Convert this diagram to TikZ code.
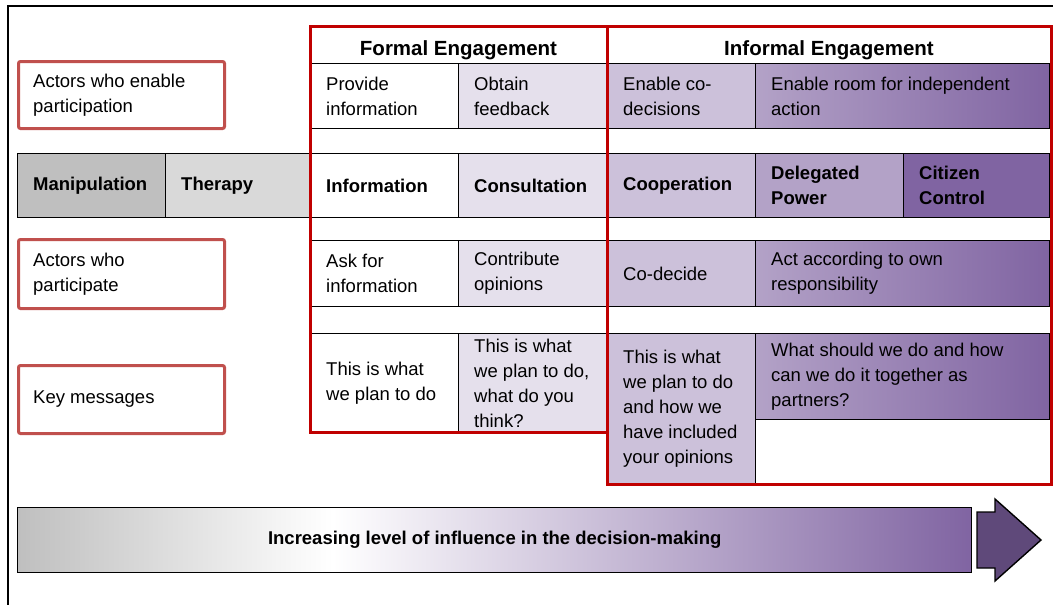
\documentclass[tikz,border=0pt]{standalone}
\usepackage{fontspec}
\setmainfont{Liberation Sans}
\definecolor{g1}{HTML}{BFBFBF}
\definecolor{g2}{HTML}{D9D9D9}
\definecolor{p1}{HTML}{E5E0EC}
\definecolor{p2}{HTML}{CCC1DA}
\definecolor{p3}{HTML}{B3A2C7}
\definecolor{p4}{HTML}{8064A2}
\definecolor{p5}{HTML}{5F497A}
\definecolor{lblred}{HTML}{C0504D}
\definecolor{frmred}{HTML}{C00000}
\pgfdeclarehorizontalshading{barshade}{100bp}{color(0bp)=(g1); color(25bp)=(g1); color(41.5bp)=(white); color(75bp)=(p4); color(100bp)=(p4)}
% #1 name, #2 x, #3 y, #4 w, #5 h, #6 box options, #7 text options, #8 text
\newcommand\mycell[8]{%
  \node[cellbox, #6, minimum width=#4pt, minimum height=#5pt] (#1) at (#2,#3) {};
  \node[celltext, #7] (#1-t) at ([xshift=16pt]#1.west) {#8};}
\begin{document}
\begin{tikzpicture}[x=1pt,y=-1pt,
  cellbox/.style={draw=black, line width=1.4pt, anchor=north west, inner sep=0pt},
  celltext/.style={anchor=west, align=left, inner sep=0pt, font=\fontsize{18.5}{25}\selectfont},
  bold/.style={font=\fontsize{18.5}{25}\selectfont\bfseries},
  lblbox/.style={draw=lblred, line width=3pt, rounded corners=2pt, fill=white, anchor=north west, inner sep=0pt},
  hdr/.style={anchor=base, inner sep=0pt, font=\fontsize{20.5}{25}\selectfont\bfseries},
  frame/.style={draw=frmred, line width=3pt},
  grad/.style={left color=p3, right color=p4}]
\useasboundingbox (0,0) rectangle (1053,605);
\draw[line width=1.5pt] (8,605) -- (8,6) -- (1053,6);

% left labels
\mycell{l1}{17}{60}{206}{67}{lblbox}{}{Actors who enable\\participation}
\mycell{l2}{17}{238}{206}{69}{lblbox}{}{Actors who\\participate}
\mycell{l3}{17}{364}{206}{68}{lblbox}{}{Key messages}

% headers
\node[hdr] (fe) at (458.5,55) {Formal Engagement};
\node[hdr] (ie) at (829,55) {Informal Engagement};

% row 1
\mycell{r1a}{310}{63}{148}{65}{fill=white}{}{Provide\\information}
\mycell{r1b}{458}{63}{149}{65}{fill=p1}{}{Obtain\\feedback}
\mycell{r1c}{607}{63}{148}{65}{fill=p2}{}{Enable co-\\decisions}
\mycell{r1d}{755}{63}{294}{65}{grad}{}{Enable room for independent\\action}

% ladder
\mycell{m}{17}{153}{148}{64}{fill=g1}{bold}{Manipulation}
\mycell{th}{165}{153}{145}{64}{fill=g2}{bold}{Therapy}
\mycell{inf}{310}{153}{148}{64}{fill=white}{bold}{Information}
\mycell{con}{458}{153}{149}{64}{fill=p1}{bold}{Consultation}
\mycell{coop}{607}{153}{148}{64}{fill=p2}{bold}{Cooperation}
\mycell{del}{755}{153}{148}{64}{fill=p3}{bold}{Delegated\\Power}
\mycell{cit}{903}{153}{146}{64}{fill=p4}{bold}{Citizen\\Control}

% row 3
\mycell{r3a}{310}{240}{148}{66}{fill=white}{}{Ask for\\information}
\mycell{r3b}{458}{240}{149}{66}{fill=p1}{}{Contribute\\opinions}
\mycell{r3c}{607}{240}{148}{66}{fill=p2}{}{Co-decide}
\mycell{r3d}{755}{240}{294}{66}{grad}{}{Act according to own\\responsibility}

% row 4
\mycell{r4a}{310}{333}{148}{99}{fill=white}{}{This is what\\we plan to do}
\mycell{r4b}{458}{333}{149}{99}{fill=p1}{}{This is what\\we plan to do,\\what do you\\think?}
\mycell{r4c}{607}{333}{148}{150}{fill=p2}{}{This is what\\we plan to do\\and how we\\have included\\your opinions}
\mycell{r4d}{755}{333}{294}{86}{grad}{}{What should we do and how\\can we do it together as\\partners?}

% red frames
\draw[frame] (310,26) rectangle (607,432);
\draw[frame] (607,26) rectangle (1051,484);

% bottom bar and arrow
\node[draw=black, line width=1.4pt, shade, shading=barshade, anchor=north west, minimum width=954pt, minimum height=65pt, inner sep=0pt, bold] (bar) at (17,507) {Increasing level of influence in the decision-making};
\draw[line width=1.4pt, fill=p5] (977,512) -- (995,512) -- (995,499) -- (1041,540) -- (995,581) -- (995,568) -- (977,568) -- cycle;
\end{tikzpicture}
\end{document}
